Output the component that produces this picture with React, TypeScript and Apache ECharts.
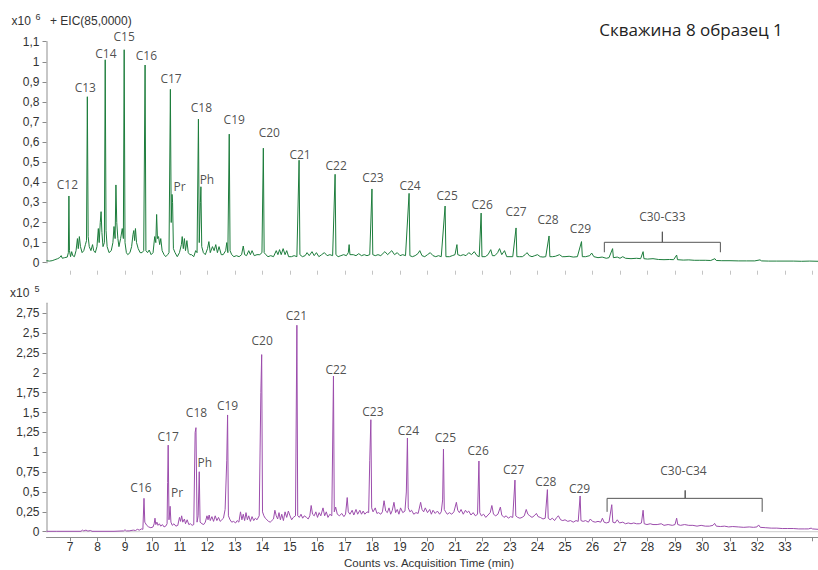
import React, { useEffect, useRef } from 'react';
import * as echarts from 'echarts';

// ---------- data (top: x10^6 counts, bottom: x10^5 counts; time in min) ----------
const topTrace: number[][] = [
  [6.145,0.010],[6.25,0.008],[6.35,0.010],[6.45,0.015],[6.55,0.020],[6.62,0.025],[6.68,0.035],[6.72,0.022],[6.8,0.025],[6.9,0.028],
  [6.94,0.05],[6.96,0.332],[6.98,0.06],[7.02,0.03],[7.06,0.055],[7.1,0.035],[7.16,0.03],[7.22,0.06],[7.27,0.12],[7.3,0.07],[7.34,0.13],[7.38,0.08],[7.44,0.05],[7.5,0.06],[7.56,0.09],
  [7.6,0.11],[7.63,0.826],[7.66,0.13],[7.7,0.08],[7.76,0.06],[7.82,0.09],[7.86,0.06],[7.92,0.05],[7.98,0.08],[8.03,0.17],[8.06,0.1],[8.1,0.2],[8.13,0.254],[8.16,0.15],[8.2,0.08],[8.25,0.1],
  [8.28,1.01],[8.31,0.16],[8.35,0.08],[8.42,0.05],[8.5,0.06],[8.56,0.1],[8.6,0.18],[8.64,0.12],[8.67,0.387],[8.7,0.2],[8.74,0.12],[8.78,0.08],[8.84,0.12],[8.9,0.17],[8.94,0.12],
  [8.97,1.06],[9.0,0.1],[9.05,0.05],[9.1,0.04],[9.18,0.05],[9.24,0.08],[9.29,0.14],[9.32,0.16],[9.35,0.11],[9.38,0.17],[9.42,0.1],[9.48,0.07],[9.55,0.05],[9.62,0.05],[9.68,0.06],
  [9.73,0.984],[9.76,0.06],[9.82,0.05],[9.88,0.063],[9.95,0.04],[10.02,0.05],[10.08,0.13],[10.12,0.1],[10.15,0.24],[10.18,0.12],[10.22,0.13],[10.26,0.09],[10.3,0.12],[10.35,0.06],[10.42,0.04],[10.48,0.03],[10.55,0.04],[10.6,0.05],
  [10.65,0.863],[10.68,0.2],[10.71,0.34],[10.73,0.3],[10.76,0.07],[10.82,0.05],[10.9,0.03],[10.98,0.05],[11.05,0.09],[11.08,0.13],[11.12,0.07],[11.16,0.12],[11.2,0.06],[11.25,0.11],[11.3,0.05],[11.36,0.04],[11.42,0.04],[11.5,0.03],[11.57,0.06],[11.62,0.05],
  [11.67,0.715],[11.7,0.1],[11.74,0.3],[11.76,0.378],[11.79,0.08],[11.85,0.05],[11.92,0.04],[12.0,0.07],[12.05,0.105],[12.1,0.05],[12.18,0.08],[12.24,0.06],[12.3,0.09],[12.36,0.05],[12.42,0.08],[12.5,0.04],[12.57,0.04],[12.66,0.06],[12.7,0.1],[12.74,0.05],
  [12.79,0.64],[12.82,0.06],[12.88,0.04],[12.96,0.03],[13.05,0.035],[13.15,0.03],[13.24,0.04],[13.3,0.083],[13.35,0.04],[13.42,0.035],[13.5,0.06],[13.56,0.04],[13.62,0.06],[13.7,0.035],[13.8,0.04],[13.9,0.04],[13.98,0.05],
  [14.03,0.57],[14.06,0.05],[14.12,0.04],[14.2,0.03],[14.3,0.035],[14.4,0.03],[14.5,0.06],[14.56,0.04],[14.62,0.065],[14.68,0.04],[14.75,0.07],[14.82,0.04],[14.88,0.06],[14.95,0.03],[15.05,0.03],[15.15,0.035],[15.25,0.03],
  [15.33,0.51],[15.36,0.04],[15.45,0.03],[15.55,0.035],[15.62,0.05],[15.7,0.035],[15.8,0.055],[15.88,0.035],[15.96,0.05],[16.05,0.03],[16.15,0.04],[16.25,0.05],[16.35,0.035],[16.45,0.04],[16.55,0.035],
  [16.64,0.44],[16.67,0.04],[16.75,0.03],[16.85,0.035],[16.95,0.04],[17.05,0.035],[17.12,0.05],[17.15,0.09],[17.18,0.04],[17.3,0.04],[17.4,0.035],[17.5,0.045],[17.6,0.035],[17.7,0.04],[17.8,0.035],[17.9,0.04],
  [17.98,0.367],[18.01,0.04],[18.1,0.035],[18.2,0.04],[18.3,0.035],[18.45,0.055],[18.55,0.04],[18.7,0.06],[18.8,0.04],[18.9,0.05],[19.0,0.035],[19.1,0.04],[19.2,0.035],
  [19.33,0.345],[19.36,0.035],[19.45,0.03],[19.55,0.035],[19.65,0.045],[19.72,0.06],[19.8,0.035],[19.9,0.03],[20.0,0.04],[20.1,0.05],[20.2,0.035],[20.3,0.03],[20.4,0.035],[20.5,0.03],
  [20.64,0.282],[20.67,0.03],[20.8,0.03],[20.9,0.035],[21.0,0.04],[21.07,0.09],[21.1,0.04],[21.2,0.035],[21.3,0.04],[21.4,0.035],[21.5,0.05],[21.6,0.04],[21.7,0.055],[21.8,0.035],[21.88,0.03],
  [21.95,0.247],[21.98,0.03],[22.1,0.03],[22.2,0.04],[22.3,0.065],[22.36,0.035],[22.45,0.035],[22.55,0.05],[22.62,0.07],[22.7,0.04],[22.8,0.06],[22.88,0.03],[23.0,0.03],[23.1,0.03],
  [23.22,0.173],[23.25,0.03],[23.35,0.03],[23.45,0.03],[23.55,0.04],[23.62,0.05],[23.7,0.035],[23.8,0.03],[23.9,0.035],[24.0,0.04],[24.1,0.03],[24.2,0.028],[24.3,0.03],
  [24.42,0.133],[24.45,0.03],[24.55,0.03],[24.65,0.032],[24.8,0.04],[24.9,0.03],[25.0,0.03],[25.15,0.032],[25.3,0.028],[25.45,0.03],
  [25.6,0.105],[25.63,0.03],[25.75,0.03],[25.9,0.035],[25.97,0.048],[26.05,0.03],[26.2,0.025],[26.35,0.028],[26.5,0.022],[26.6,0.025],
  [26.73,0.07],[26.76,0.025],[26.9,0.028],[27.0,0.022],[27.1,0.03],[27.2,0.022],[27.4,0.02],[27.6,0.022],[27.75,0.02],
  [27.84,0.055],[27.87,0.02],[28.0,0.018],[28.2,0.02],[28.4,0.016],[28.6,0.015],[28.8,0.016],[28.95,0.015],
  [29.06,0.038],[29.09,0.015],[29.3,0.013],[29.5,0.014],[29.7,0.012],[29.9,0.012],[30.1,0.012],[30.3,0.011],
  [30.45,0.02],[30.5,0.011],[30.7,0.01],[31.0,0.01],[31.3,0.009],[31.6,0.009],[31.9,0.009],
  [32.09,0.014],[32.15,0.009],[32.4,0.008],[32.7,0.008],[33.0,0.008],[33.3,0.008],[33.6,0.007],[33.9,0.008],[34.2,0.007]
];

const botTrace: number[][] = [
  [6.145,0.005],[6.5,0.005],[7.0,0.005],[7.4,0.005],[7.45,0.02],[7.5,0.01],[7.58,0.02],[7.65,0.008],[7.75,0.015],[7.8,0.005],[8.2,0.005],[8.6,0.005],[8.95,0.01],[9.0,0.025],[9.05,0.01],[9.15,0.01],[9.3,0.02],[9.38,0.015],[9.45,0.03],[9.52,0.02],[9.6,0.035],[9.65,0.03],
  [9.69,0.42],[9.72,0.12],[9.79,0.08],[9.86,0.06],[9.94,0.05],[10.02,0.06],[10.06,0.1],[10.09,0.17],[10.12,0.09],[10.16,0.12],[10.2,0.08],[10.25,0.1],[10.3,0.07],[10.36,0.09],[10.42,0.06],[10.48,0.07],[10.53,0.1],[10.55,0.62],
  [10.57,1.09],[10.6,0.15],[10.64,0.32],[10.67,0.12],[10.72,0.08],[10.78,0.1],[10.85,0.07],[10.92,0.08],[10.98,0.18],[11.02,0.13],[11.06,0.2],[11.1,0.12],[11.16,0.16],[11.2,0.1],[11.26,0.15],[11.32,0.09],[11.38,0.1],[11.44,0.08],[11.5,0.09],[11.55,1.25],
  [11.58,1.31],[11.62,0.12],[11.66,0.2],[11.7,0.755],[11.73,0.12],[11.8,0.1],[11.86,0.09],[11.92,0.12],[11.98,0.2],[12.02,0.15],[12.06,0.21],[12.1,0.14],[12.16,0.19],[12.22,0.13],[12.28,0.2],[12.34,0.14],[12.4,0.18],[12.46,0.13],[12.52,0.15],[12.58,0.17],[12.64,0.28],[12.7,0.9],
  [12.73,1.47],[12.76,0.2],[12.82,0.15],[12.88,0.12],[12.95,0.13],[13.02,0.11],[13.08,0.14],[13.14,0.12],[13.2,0.25],[13.25,0.15],[13.3,0.22],[13.35,0.14],[13.4,0.24],[13.45,0.15],[13.5,0.2],[13.56,0.13],[13.62,0.19],[13.68,0.14],[13.74,0.17],[13.8,0.15],[13.88,0.2],[13.94,1.75],
  [13.97,2.23],[14.0,0.25],[14.05,0.2],[14.1,0.17],[14.16,0.15],[14.22,0.13],[14.28,0.12],[14.34,0.14],[14.4,0.16],[14.45,0.27],[14.5,0.2],[14.55,0.16],[14.6,0.24],[14.65,0.15],[14.7,0.22],[14.76,0.14],[14.82,0.25],[14.88,0.18],[14.94,0.26],[15.0,0.2],[15.06,0.15],[15.12,0.18],[15.2,0.2],
  [15.25,2.6],[15.28,0.2],[15.34,0.18],[15.4,0.22],[15.46,0.17],[15.52,0.2],[15.6,0.18],[15.66,0.16],[15.72,0.2],[15.77,0.33],[15.82,0.22],[15.88,0.2],[15.94,0.25],[16.0,0.18],[16.06,0.24],[16.12,0.2],[16.2,0.3],[16.26,0.2],[16.32,0.25],[16.38,0.18],[16.45,0.22],[16.52,0.2],
  [16.58,1.96],[16.61,0.25],[16.66,0.31],[16.72,0.22],[16.8,0.2],[16.88,0.23],[16.96,0.19],[17.02,0.22],[17.08,0.43],[17.12,0.25],[17.18,0.22],[17.26,0.27],[17.32,0.21],[17.4,0.28],[17.46,0.22],[17.54,0.27],[17.6,0.22],[17.66,0.26],[17.72,0.22],[17.8,0.25],[17.86,0.24],[17.9,0.9],
  [17.94,1.41],[17.97,0.3],[18.02,0.25],[18.1,0.3],[18.16,0.23],[18.22,0.24],[18.3,0.22],[18.36,0.25],[18.42,0.39],[18.48,0.26],[18.54,0.24],[18.6,0.3],[18.66,0.22],[18.72,0.27],[18.78,0.37],[18.84,0.24],[18.9,0.28],[18.96,0.22],[19.02,0.3],[19.1,0.24],[19.18,0.26],[19.23,0.5],
  [19.27,1.18],[19.3,0.3],[19.36,0.25],[19.42,0.27],[19.5,0.22],[19.58,0.24],[19.66,0.23],[19.75,0.37],[19.8,0.28],[19.86,0.25],[19.92,0.3],[20.0,0.24],[20.08,0.28],[20.14,0.22],[20.2,0.27],[20.28,0.23],[20.36,0.26],[20.44,0.22],[20.5,0.25],[20.55,0.4],
  [20.58,1.04],[20.61,0.28],[20.66,0.25],[20.72,0.22],[20.8,0.24],[20.88,0.22],[20.96,0.25],[21.05,0.37],[21.1,0.27],[21.16,0.24],[21.22,0.28],[21.3,0.22],[21.38,0.27],[21.44,0.24],[21.5,0.26],[21.58,0.21],[21.66,0.24],[21.74,0.2],[21.82,0.22],
  [21.87,0.89],[21.9,0.24],[21.96,0.2],[22.04,0.22],[22.12,0.18],[22.2,0.21],[22.28,0.24],[22.34,0.33],[22.4,0.22],[22.48,0.2],[22.56,0.22],[22.65,0.31],[22.7,0.21],[22.78,0.18],[22.86,0.2],[22.94,0.17],[23.02,0.19],[23.1,0.18],
  [23.18,0.65],[23.21,0.2],[23.28,0.18],[23.36,0.17],[23.44,0.18],[23.52,0.2],[23.59,0.28],[23.65,0.22],[23.72,0.2],[23.8,0.18],[23.88,0.2],[23.96,0.23],[24.02,0.19],[24.1,0.18],[24.2,0.16],[24.28,0.17],
  [24.36,0.53],[24.39,0.17],[24.46,0.15],[24.54,0.17],[24.62,0.14],[24.7,0.18],[24.76,0.2],[24.84,0.15],[24.92,0.14],[25.0,0.15],[25.1,0.13],[25.2,0.14],[25.3,0.12],[25.4,0.14],[25.48,0.13],
  [25.55,0.45],[25.58,0.14],[25.66,0.13],[25.75,0.14],[25.85,0.12],[25.92,0.16],[26.0,0.13],[26.1,0.12],[26.2,0.13],[26.3,0.12],[26.36,0.17],[26.42,0.12],[26.5,0.11],[26.6,0.12],
  [26.7,0.34],[26.74,0.12],[26.82,0.11],[26.9,0.15],[26.98,0.11],[27.1,0.12],[27.2,0.1],[27.3,0.11],[27.4,0.1],[27.5,0.11],[27.6,0.1],[27.7,0.1],[27.78,0.11],
  [27.84,0.27],[27.88,0.1],[27.98,0.09],[28.1,0.1],[28.2,0.09],[28.35,0.09],[28.5,0.1],[28.6,0.08],[28.75,0.09],[28.9,0.08],[29.0,0.09],
  [29.06,0.17],[29.1,0.09],[29.2,0.08],[29.35,0.09],[29.5,0.08],[29.65,0.08],[29.8,0.07],[29.95,0.08],[30.1,0.07],[30.25,0.07],[30.38,0.08],
  [30.44,0.105],[30.5,0.07],[30.65,0.065],[30.8,0.07],[30.95,0.06],[31.1,0.065],[31.3,0.06],[31.5,0.055],[31.7,0.06],[31.85,0.055],[31.98,0.06],
  [32.04,0.085],[32.1,0.055],[32.3,0.05],[32.5,0.045],[32.7,0.045],[32.9,0.04],[33.1,0.04],[33.3,0.04],[33.5,0.035],[33.7,0.035],[33.85,0.035],[33.95,0.045],[34.0,0.035],[34.2,0.03]
];

const topPeakNames = ['C12','C13','C14','C15','C16','C17','Pr','C18','Ph','C19','C20','C21','C22','C23','C24','C25','C26','C27','C28','C29'];
const topPeakTimes = [6.96,7.63,8.28,8.97,9.73,10.65,10.71,11.67,11.76,12.79,14.03,15.33,16.64,17.98,19.33,20.64,21.95,23.22,24.42,25.6];
const topPeakValues = [0.332,0.826,1.01,1.06,0.984,0.863,0.34,0.715,0.378,0.64,0.57,0.51,0.44,0.367,0.345,0.282,0.247,0.173,0.133,0.105];

const botPeakNames = ['C16','C17','Pr','C18','Ph','C19','C20','C21','C22','C23','C24','C25','C26','C27','C28','C29'];
const botPeakTimes = [9.69,10.57,10.64,11.58,11.7,12.73,13.97,15.25,16.58,17.94,19.27,20.58,21.87,23.18,24.36,25.55];
const botPeakValues = [0.42,1.09,0.32,1.31,0.755,1.47,2.23,2.6,1.96,1.41,1.18,1.04,0.89,0.65,0.53,0.45];

// bracket: [start, middle, end] times and [end-foot, bar, tip] levels
const topBracketName = 'C30-C33';
const topBracketTimes = [26.43, 28.54, 30.65];
const topBracketLevels = [0.052, 0.1015, 0.154];
const botBracketName = 'C30-C34';
const botBracketTimes = [26.53, 29.37, 32.17];
const botBracketLevels = [0.25, 0.42, 0.52];

const xTickValues = [7,8,9,10,11,12,13,14,15,16,17,18,19,20,21,22,23,24,25,26,27,28,29,30,31,32,33,34];
const xLabelValues = [7,8,9,10,11,12,13,14,15,16,17,18,19,20,21,22,23,24,25,26,27,28,29,30,31,32,33];
const topYTicks = [0,0.1,0.2,0.3,0.4,0.5,0.6,0.7,0.8,0.9,1,1.1];
const botYTicks = [0,0.25,0.5,0.75,1,1.25,1.5,1.75,2,2.25,2.5,2.75];

// ---------- label placement (pixel offsets of label centre from the peak top) ----------
const topLabelOffsets = [[-1.5,-11],[-2,-9.5],[0.7,-6.7],[0,-13.3],[1.3,-10],[0.7,-11],[7.5,-8],[3,-11.7],[6,-7.5],[5,-15],[6,-16],[1,-6],[1,-9],[1,-11],[1,-8],[2,-11],[1,-9],[0,-16],[-1,-16],[-1,-13]];
const botLabelOffsets = [[-3,-11],[0,-9],[7,-13.5],[0.5,-14.7],[5.5,-9],[0,-9],[0.5,-14.6],[-0.5,-10],[2.6,-7],[2,-8],[1,-7.6],[2,-12],[-0.8,-10.3],[-1.3,-10.3],[-1.6,-8.5],[-0.6,-7.2]];
const topBracketLabelOffset = [0, -15.7];
const botBracketLabelOffset = [-1.7, -19.6];

const X_MIN = 6.145;
const X_MAX = 34.2;
const TOP_COLOR = '#1d7d3c';
const BOT_COLOR = '#9c4dac';
const AXIS_FONT = '"Liberation Sans", Arial, sans-serif';
const LABEL_FONT = '"Open Sans", "Noto Sans", sans-serif';

const fmt = (v: number) => String(Math.round(v * 100) / 100).replace('.', ',');

function bracketData(times: number[], levels: number[]) {
  const [t0, tm, t1] = times;
  const [foot, bar, tip] = levels;
  return [[t0, foot], [t0, bar], [tm, bar], [tm, tip], [tm, bar], [t1, bar], [t1, foot]];
}

function labelSeries(names: string[], times: number[], values: number[], offsets: number[][], bracketName: string, bTimes: number[], bLevels: number[], bOffset: number[], idx: number) {
  const data: any[] = names.map((n, i) => ({
    value: [times[i], values[i]],
    label: { offset: offsets[i], formatter: n },
  }));
  data.push({ value: [bTimes[1], bLevels[2]], label: { offset: bOffset, formatter: bracketName } });
  return {
    type: 'scatter',
    xAxisIndex: idx,
    yAxisIndex: idx,
    symbolSize: 0,
    silent: true,
    z: 5,
    data,
    label: {
      show: true,
      position: 'inside',
      fontFamily: LABEL_FONT,
      fontSize: 12,
      color: '#222',
    },
  };
}

function yAxis(idx: number, max: number, ticks: number[]) {
  return {
    gridIndex: idx,
    type: 'value',
    min: 0,
    max,
    axisLine: { show: true, onZero: false, lineStyle: { color: '#b4b4b4', width: 1.5 } },
    axisTick: { show: true, customValues: ticks, length: 4, lineStyle: { color: '#8a8a8a' } },
    axisLabel: { customValues: ticks, formatter: fmt, fontSize: 12, color: '#333', margin: 7, fontFamily: AXIS_FONT },
    splitLine: { show: false },
  };
}

export default function App() {
  const ref = useRef<HTMLDivElement>(null);
  useEffect(() => {
    if (!ref.current) return;
    const chart = echarts.init(ref.current, undefined, { renderer: 'svg' });
    const option: any = {
      animation: false,
      backgroundColor: '#ffffff',
      grid: [
        { left: 46.5, top: 41.7, right: 0, height: 221 },
        { left: 46.5, top: 303.3, right: 0, height: 228.4 },
      ],
      xAxis: [
        {
          gridIndex: 0, type: 'value', min: X_MIN, max: X_MAX, offset: 8,
          axisLine: { show: false, onZero: false },
          axisTick: { show: true, customValues: xTickValues, length: 4, lineStyle: { color: '#c4c4c4' } },
          axisLabel: { show: false },
          splitLine: { show: false },
        },
        {
          gridIndex: 1, type: 'value', min: X_MIN, max: X_MAX, offset: 5.6,
          axisLine: { show: true, onZero: false, lineStyle: { color: '#8c8c8c', width: 1 } },
          axisTick: { show: true, customValues: xTickValues, length: 4, lineStyle: { color: '#8c8c8c' } },
          axisLabel: { customValues: xLabelValues, fontSize: 12, color: '#333', margin: 4, fontFamily: AXIS_FONT },
          splitLine: { show: false },
        },
      ],
      yAxis: [yAxis(0, 1.1, topYTicks), yAxis(1, 2.876, botYTicks)],
      series: [
        {
          type: 'line', xAxisIndex: 0, yAxisIndex: 0, data: topTrace, showSymbol: false, silent: true,
          lineStyle: { color: TOP_COLOR, width: 1 }, z: 3,
        },
        labelSeries(topPeakNames, topPeakTimes, topPeakValues, topLabelOffsets, topBracketName, topBracketTimes, topBracketLevels, topBracketLabelOffset, 0),
        {
          type: 'line', xAxisIndex: 0, yAxisIndex: 0, data: bracketData(topBracketTimes, topBracketLevels),
          showSymbol: false, silent: true, lineStyle: { color: '#555', width: 1 }, z: 4,
        },
        {
          type: 'line', xAxisIndex: 1, yAxisIndex: 1, data: [[X_MIN, 0], [X_MAX, 0]], showSymbol: false, silent: true,
          lineStyle: { color: '#d6d6d6', width: 1.5 }, z: 1,
        },
        {
          type: 'line', xAxisIndex: 1, yAxisIndex: 1, data: botTrace, showSymbol: false, silent: true,
          lineStyle: { color: BOT_COLOR, width: 1 }, z: 3,
        },
        labelSeries(botPeakNames, botPeakTimes, botPeakValues, botLabelOffsets, botBracketName, botBracketTimes, botBracketLevels, botBracketLabelOffset, 1),
        {
          type: 'line', xAxisIndex: 1, yAxisIndex: 1, data: bracketData(botBracketTimes, botBracketLevels),
          showSymbol: false, silent: true, lineStyle: { color: '#555', width: 1 }, z: 4,
        },
      ],
      graphic: [
        { type: 'text', x: 11.5, y: 20.7, style: { text: 'x10', fontSize: 12, fontFamily: AXIS_FONT, fill: '#333', verticalAlign: 'middle', align: 'left' } },
        { type: 'text', x: 35.5, y: 16.5, style: { text: '6', fontSize: 9, fontFamily: AXIS_FONT, fill: '#333', verticalAlign: 'middle', align: 'left' } },
        { type: 'text', x: 50, y: 20.7, style: { text: '+ EIC(85,0000)', fontSize: 12, fontFamily: AXIS_FONT, fill: '#333', verticalAlign: 'middle', align: 'left' } },
        { type: 'text', x: 10, y: 292.7, style: { text: 'x10', fontSize: 12, fontFamily: AXIS_FONT, fill: '#333', verticalAlign: 'middle', align: 'left' } },
        { type: 'text', x: 34.5, y: 288.5, style: { text: '5', fontSize: 9, fontFamily: AXIS_FONT, fill: '#333', verticalAlign: 'middle', align: 'left' } },
        { type: 'text', x: 691, y: 29.5, style: { text: 'Скважина 8 образец 1', fontSize: 17, fontFamily: LABEL_FONT, fill: '#222', verticalAlign: 'middle', align: 'center' } },
        { type: 'text', x: 429, y: 563, style: { text: 'Counts vs. Acquisition Time (min)', fontSize: 11.5, fontFamily: AXIS_FONT, fill: '#333', verticalAlign: 'middle', align: 'center' } },
      ],
    };
    chart.setOption(option);
    return () => chart.dispose();
  }, []);
  return (
    <div
      ref={ref}
      style={{ position: 'fixed', left: 0, top: 0, width: 818, height: 570, background: '#fff' }}
    />
  );
}
